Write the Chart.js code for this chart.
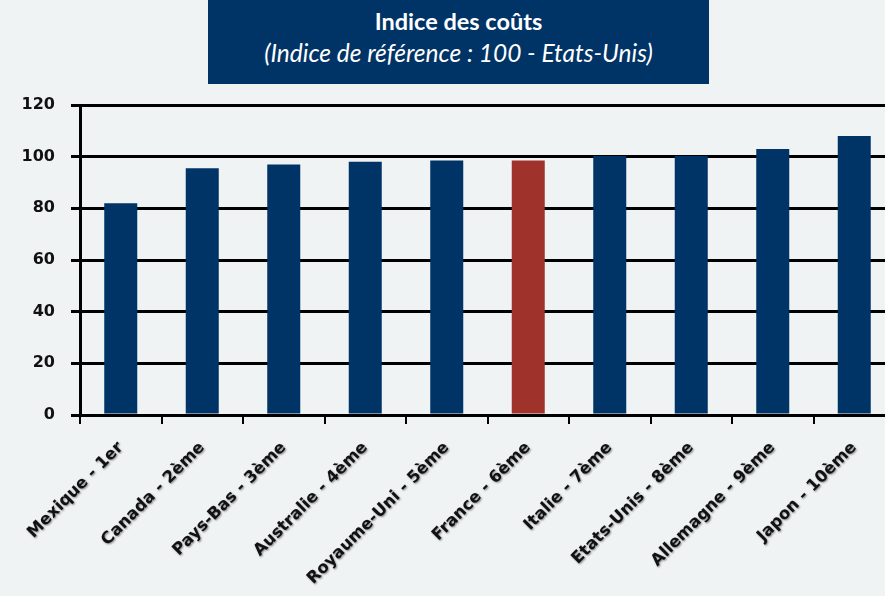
<!DOCTYPE html>
<html lang="fr">
<head>
  <meta charset="UTF-8">
  <title>Indice des coûts</title>
  <style>
    body {
      margin: 0;
      background: #eff3f4;
      overflow: hidden;
      width: 885px;
      height: 596px;
      position: relative;
    }
    #chart {
      position: absolute;
      left: 0;
      top: 0;
    }
    .titre {
      position: absolute;
      left: 208px;
      top: 0;
      width: 501px;
      height: 84px;
      background: #003366;
      color: white;
      text-align: center;
      font-family: Lato, sans-serif;
    }
    .titre .l1 {
      font-weight: bold;
      font-size: 23.5px;
      margin-top: 5px;
      line-height: 32px;
    }
    .titre .l2 {
      font-style: italic;
      font-size: 24.5px;
      line-height: 32px;
    }
  </style>
  <script src="https://cdn.jsdelivr.net/npm/chart.js"></script>
</head>
<body>
  <canvas id="chart" width="900" height="596"></canvas>
  <div class="titre">
    <div class="l1">Indice des coûts</div>
    <div class="l2">(Indice de référence : 100 - Etats-Unis)</div>
  </div>

  <script>
    // données
    const pays = ['Mexique - 1er', 'Canada - 2ème', 'Pays-Bas - 3ème', 'Australie - 4ème', 'Royaume-Uni - 5ème',
                  'France - 6ème', 'Italie - 7ème', 'Etats-Unis - 8ème', 'Allemagne - 9ème', 'Japon - 10ème'];
    const indice = [82, 95.5, 97, 98, 98.5, 98.5, 100.3, 100.3, 103, 108];
    const yTicks = [0, 20, 40, 60, 80, 100, 120];

    const bleu = '#003366';
    const rouge = '#a0322c';
    const couleurs = pays.map(p => p.startsWith('France') ? rouge : bleu);

    // petite ombre grise sous les libellés de l'axe x, comme dans l'original
    const ombreLabels = {
      id: 'ombreLabels',
      afterLayout(chart) {
        const sx = chart.scales.x;
        if (sx._ombre) return;
        const orig = sx.drawLabels.bind(sx);
        sx.drawLabels = function (area) {
          const c = this.ctx;
          c.save();
          c.shadowColor = 'rgba(0,0,0,0.45)';
          c.shadowBlur = 2;
          c.shadowOffsetX = 1;
          c.shadowOffsetY = 1;
          orig(area);
          c.restore();
        };
        sx._ombre = true;
      }
    };

    const ctx = document.getElementById('chart').getContext('2d');
    new Chart(ctx, {
      type: 'bar',
      data: {
        labels: pays,
        datasets: [{
          data: indice,
          backgroundColor: couleurs,
          borderWidth: 0,
          barPercentage: 0.405,
          categoryPercentage: 1
        }]
      },
      options: {
        responsive: false,
        animation: false,
        layout: { padding: { top: 105, right: 5, left: 0, bottom: 0 } },
        plugins: {
          legend: { display: false },
          tooltip: { enabled: false }
        },
        scales: {
          y: {
            min: 0,
            max: 120,
            afterBuildTicks: s => { s.ticks = yTicks.map(v => ({ value: v })); },
            afterFit: s => { s.width = 80; },
            border: { color: '#000', width: 3 },
            grid: { color: '#000', lineWidth: 3, tickLength: 9, tickColor: '#000' },
            ticks: {
              color: '#111',
              padding: 16,
              font: { family: 'DejaVu Sans', weight: 'bold', size: 16 }
            }
          },
          x: {
            afterFit: s => { s.height = 181; },
            border: { color: '#000', width: 3 },
            grid: { display: true, drawOnChartArea: false, color: '#000', lineWidth: 2, tickLength: 9 },
            ticks: {
              color: '#111',
              minRotation: 45,
              maxRotation: 45,
              autoSkip: false,
              padding: 14,
              font: { family: 'DejaVu Sans', weight: 'bold', size: 16.5 }
            }
          }
        }
      },
      plugins: [ombreLabels]
    });
  </script>
</body>
</html>
